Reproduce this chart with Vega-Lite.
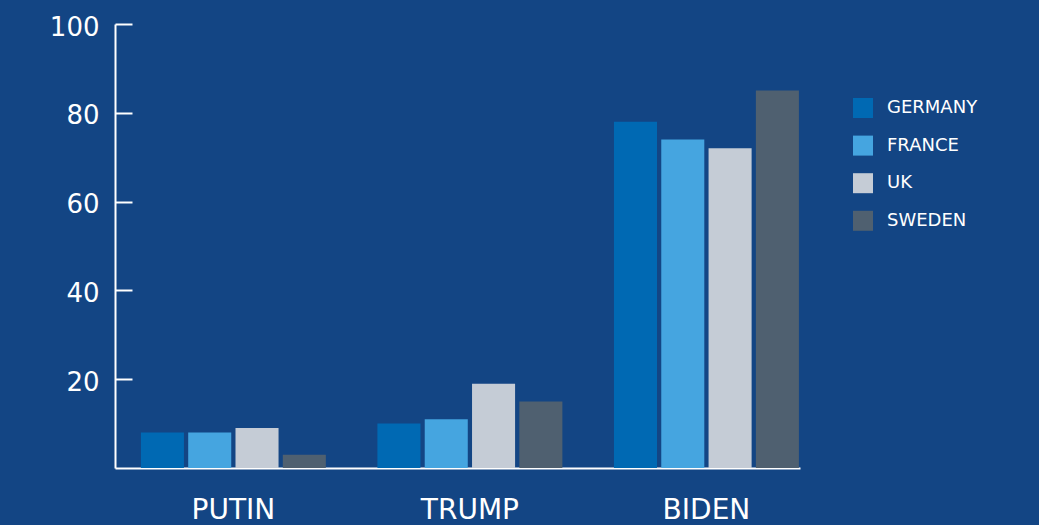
{
  "$schema": "https://vega.github.io/schema/vega-lite/v6.json",
  "width": 685,
  "height": 444,
  "autosize": "none",
  "padding": {"left": 115, "top": 24, "right": 239, "bottom": 57},
  "background": "#134584",
  "data": {
    "values": [
      {"leader": "PUTIN", "country": "GERMANY", "value": 8},
      {"leader": "PUTIN", "country": "FRANCE", "value": 8},
      {"leader": "PUTIN", "country": "UK", "value": 9},
      {"leader": "PUTIN", "country": "SWEDEN", "value": 3},
      {"leader": "TRUMP", "country": "GERMANY", "value": 10},
      {"leader": "TRUMP", "country": "FRANCE", "value": 11},
      {"leader": "TRUMP", "country": "UK", "value": 19},
      {"leader": "TRUMP", "country": "SWEDEN", "value": 15},
      {"leader": "BIDEN", "country": "GERMANY", "value": 78},
      {"leader": "BIDEN", "country": "FRANCE", "value": 74},
      {"leader": "BIDEN", "country": "UK", "value": 72},
      {"leader": "BIDEN", "country": "SWEDEN", "value": 85}
    ]
  },
  "config": {
    "view": {"stroke": null},
    "font": "DejaVu Sans"
  },
  "mark": {"type": "bar"},
  "encoding": {
    "x": {
      "field": "leader",
      "type": "nominal",
      "sort": ["PUTIN", "TRUMP", "BIDEN"],
      "scale": {"paddingInner": 0.218, "paddingOuter": 0.057, "align": 0.96},
      "axis": {
        "title": null,
        "labelAngle": 0,
        "ticks": false,
        "domainColor": "#ffffff",
        "domainWidth": 2,
        "labelColor": "#ffffff",
        "labelFontSize": 28,
        "labelFontWeight": "normal",
        "labelPadding": 28
      }
    },
    "xOffset": {
      "field": "country",
      "type": "nominal",
      "sort": ["GERMANY", "FRANCE", "UK", "SWEDEN"],
      "scale": {"paddingInner": 0.09, "paddingOuter": 0}
    },
    "y": {
      "field": "value",
      "type": "quantitative",
      "scale": {"domain": [0, 100], "nice": false},
      "axis": {
        "title": null,
        "values": [20, 40, 60, 80, 100],
        "grid": false,
        "domainColor": "#ffffff",
        "domainWidth": 2,
        "tickColor": "#ffffff",
        "tickWidth": 2,
        "tickSize": -17,
        "labelColor": "#ffffff",
        "labelFontSize": 26,
        "labelFontWeight": "normal",
        "labelPadding": 33,
        "labelOffset": 3
      }
    },
    "color": {
      "field": "country",
      "type": "nominal",
      "sort": ["GERMANY", "FRANCE", "UK", "SWEDEN"],
      "scale": {
        "domain": ["GERMANY", "FRANCE", "UK", "SWEDEN"],
        "range": ["#0069B3", "#45A5E0", "#C5CCD6", "#4F6070"]
      },
      "legend": {
        "title": null,
        "orient": "none",
        "legendX": 738,
        "legendY": 74,
        "padding": 0,
        "symbolType": "square",
        "symbolSize": 400,
        "symbolStrokeWidth": 0,
        "symbolOpacity": 1,
        "labelColor": "#ffffff",
        "labelFontSize": 18,
        "labelFontWeight": "normal",
        "labelOffset": 14,
        "rowPadding": 17.6
      }
    }
  }
}
